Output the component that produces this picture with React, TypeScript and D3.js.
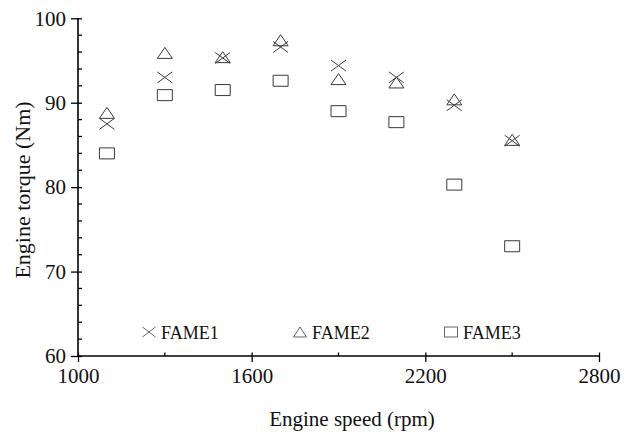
import React, { useEffect, useRef } from "react";
import * as d3 from "d3";

const speeds = [1100, 1300, 1500, 1700, 1900, 2100, 2300, 2500];
const fame1 = [87.5, 93.0, 95.3, 96.6, 94.4, 93.0, 89.7, 85.5];
const fame2 = [88.8, 95.9, 95.4, 97.4, 92.8, 92.4, 90.4, 85.6];
const fame3 = [84.0, 90.9, 91.5, 92.6, 89.0, 87.7, 80.3, 73.0];
const xMajor = [1000, 1600, 2200, 2800];
const xMinor = [1300, 1900, 2500];
const yMajor = [60, 70, 80, 90, 100];
const yMinor = [62, 64, 66, 68, 72, 74, 76, 78, 82, 84, 86, 88, 92, 94, 96, 98];
const seriesNames = ["FAME1", "FAME2", "FAME3"];

const FONT = "'Liberation Serif', 'Times New Roman', serif";
const INK = "#3a3a3a";

// marker path generators, centred on 0,0
const markerPath = (kind: string, w: number, h: number) => {
  const hw = w / 2;
  const hh = h / 2;
  if (kind === "x") return `M${-hw},${-hh}L${hw},${hh}M${-hw},${hh}L${hw},${-hh}`;
  if (kind === "tri") return `M0,${-hh}L${hw},${hh}L${-hw},${hh}Z`;
  return `M${-hw},${-hh}H${hw}V${hh}H${-hw}Z`;
};

const App = () => {
  const ref = useRef<SVGSVGElement>(null);

  useEffect(() => {
    const svg = d3.select(ref.current);
    svg.selectAll("*").remove();

    const x = d3.scaleLinear().domain([1000, 2800]).range([78, 599]);
    const y = d3.scaleLinear().domain([60, 100]).range([356, 18.3]);

    // y axis: major ticks cross the line, minor ticks point inward
    const gy = svg
      .append("g")
      .attr("transform", `translate(${x(1000)},0)`)
      .call(d3.axisLeft(y).tickValues(yMajor).tickSize(7).tickPadding(5).tickFormat(d3.format("d")));
    gy.selectAll(".tick line").attr("x1", 4);
    gy.append("g")
      .selectAll("line")
      .data(yMinor)
      .enter()
      .append("line")
      .attr("x1", 0)
      .attr("x2", 4)
      .attr("y1", (d) => y(d))
      .attr("y2", (d) => y(d))
      .attr("stroke", "#000")
      .attr("stroke-width", 1.3);

    // x axis
    const gx = svg
      .append("g")
      .attr("transform", `translate(0,${y(60)})`)
      .call(d3.axisBottom(x).tickValues(xMajor).tickSize(6).tickPadding(6).tickFormat(d3.format("d")));
    gx.selectAll(".tick line").attr("y1", -3.5);
    gx.append("g")
      .selectAll("line")
      .data(xMinor)
      .enter()
      .append("line")
      .attr("x1", (d) => x(d))
      .attr("x2", (d) => x(d))
      .attr("y1", 0)
      .attr("y2", -3.5)
      .attr("stroke", "#000")
      .attr("stroke-width", 1.3);

    [gx, gy].forEach((g) => {
      g.attr("font-family", null).style("font-family", FONT);
      g.select(".domain").attr("stroke-width", 1.6).attr("stroke", "#000");
      g.selectAll(".tick line").attr("stroke-width", 1.3).attr("stroke", "#000");
      g.selectAll(".tick text")
        .style("font-family", FONT)
        .attr("font-size", 21)
        .attr("fill", "#111");
    });
    // domain paths from d3 include outer ticks; redraw them as plain lines
    gx.select(".domain").attr("d", `M${x(1000)},0H${x(2800)}`);
    gy.select(".domain").attr("d", `M0,${y(60)}V${y(100)}`);

    // axis titles
    svg
      .append("text")
      .attr("x", 352)
      .attr("y", 426)
      .attr("text-anchor", "middle")
      .style("font-family", FONT)
      .attr("font-size", 21)
      .attr("fill", "#111")
      .text("Engine speed (rpm)");

    svg
      .append("text")
      .attr("transform", "translate(30,190) rotate(-90)")
      .attr("text-anchor", "middle")
      .style("font-family", FONT)
      .attr("font-size", 22)
      .attr("fill", "#111")
      .text("Engine torque (Nm)");

    // points
    const series = [
      { values: fame1, kind: "x" },
      { values: fame2, kind: "tri" },
      { values: fame3, kind: "sq" },
    ];
    series.forEach((s) => {
      svg
        .append("g")
        .selectAll("path")
        .data(s.values)
        .enter()
        .append("path")
        .attr("transform", (d, i) => `translate(${x(speeds[i])},${y(d)})`)
        .attr("d", markerPath(s.kind, 15, 11))
        .attr("fill", "none")
        .attr("stroke", INK)
        .attr("stroke-width", 1);
    });

    // legend
    const legendX = [149, 300, 451];
    const legend = svg
      .append("g")
      .selectAll("g")
      .data(seriesNames)
      .enter()
      .append("g")
      .attr("transform", (d, i) => `translate(${legendX[i]},332)`);
    legend
      .append("path")
      .attr("d", (d, i) => markerPath(series[i].kind, 13, 10))
      .attr("fill", "none")
      .attr("stroke", "#666")
      .attr("stroke-width", 1);
    legend
      .append("text")
      .attr("x", 12)
      .attr("y", 7)
      .style("font-family", FONT)
      .attr("font-size", 18)
      .attr("fill", "#111")
      .text((d) => d);
  }, []);

  return (
    <svg
      ref={ref}
      width={627}
      height={432}
      style={{ position: "absolute", left: 0, top: 0, background: "#fff" }}
    />
  );
};

export default App;
